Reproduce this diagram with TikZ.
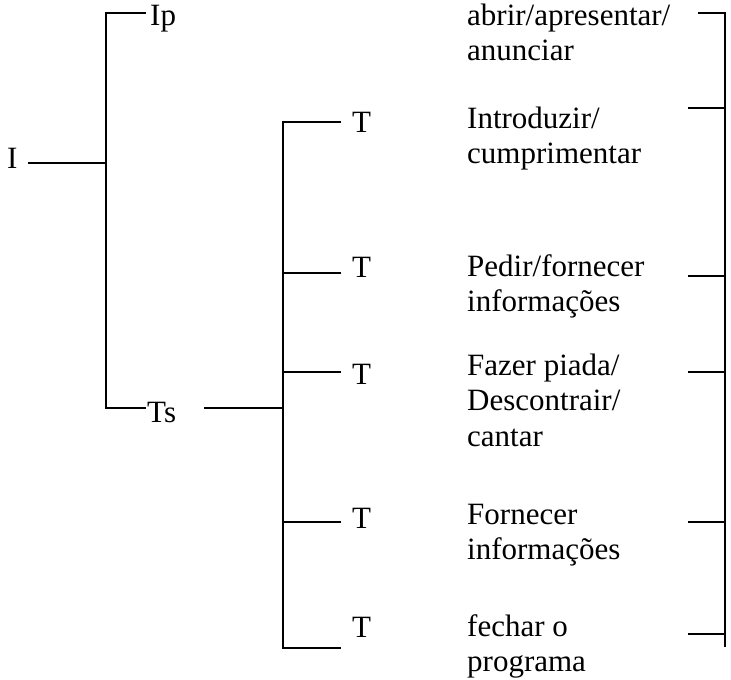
\documentclass[tikz,border=0pt]{standalone}
\usepackage{fontspec}
\setmainfont{Liberation Serif}
\begin{document}
\begin{tikzpicture}[x=1pt,y=-1pt,
  ln/.style={line width=1.8pt, line join=miter},
  lbl/.style={inner sep=0pt, anchor=base west, font=\fontsize{31}{35.5}\selectfont},
  blk/.style={inner sep=0pt, anchor=north west, align=left, font=\fontsize{31}{35.5}\selectfont}]
\useasboundingbox (0,0) rectangle (731,680);
% left labels
\node[lbl] (I) at (7,168) {I};
\node[lbl] (Ip) at (150,25) {Ip};
\node[lbl] (Ts) at (147,422) {Ts};
% T labels
\node[lbl] (T1) at (352,132) {T};
\node[lbl] (T2) at (352,277) {T};
\node[lbl] (T3) at (352,384) {T};
\node[lbl] (T4) at (352,528) {T};
\node[lbl] (T5) at (352,637) {T};
% text blocks (top = first baseline - 0.7*35.5)
\node[blk] (b1) at (467,0.15) {\strut abrir/apresentar/\\\strut anunciar};
\node[blk] (b2) at (467,103.15) {\strut Introduzir/\\\strut cumprimentar};
\node[blk] (b3) at (467,251.15) {\strut Pedir/fornecer\\\strut informações};
\node[blk] (b4) at (467,350.15) {\strut Fazer piada/\\\strut Descontrair/\\\strut cantar};
\node[blk] (b5) at (467,499.15) {\strut Fornecer\\\strut informações};
\node[blk] (b6) at (467,611.15) {\strut fechar o\\\strut programa};
% coordinates
\coordinate (Iend) at (28,163);
\coordinate (j1) at (106,163);
\coordinate (IpL) at (146,13);
\coordinate (TsL) at (146,408);
\coordinate (TsR) at (204,408);
\coordinate (j2) at (283,408);
\coordinate (t1) at (341,122);
\coordinate (t2) at (341,273);
\coordinate (t3) at (341,372);
\coordinate (t4) at (341,522);
\coordinate (t5) at (341,648);
\coordinate (r1) at (698,13);
\coordinate (r2) at (688,108);
\coordinate (r3) at (688,276);
\coordinate (r4) at (688,372);
\coordinate (r5) at (688,522);
\coordinate (r6) at (688,634);
\coordinate (rb) at (725,647);
% left bracket
\draw[ln] (Iend) -- (j1);
\draw[ln] (IpL) -| (j1) |- (TsL);
% T bracket
\draw[ln] (TsR) -- (j2);
\draw[ln] (t1) -| (j2) |- (t5);
\draw[ln] (t2) -- (t2 -| j2);
\draw[ln] (t3) -- (t3 -| j2);
\draw[ln] (t4) -- (t4 -| j2);
% right bracket
\draw[ln] (r1) -- (r1 -| rb) -- (rb);
\foreach \r in {r2,r3,r4,r5,r6} \draw[ln] (\r) -- (\r -| rb);
\end{tikzpicture}
\end{document}
